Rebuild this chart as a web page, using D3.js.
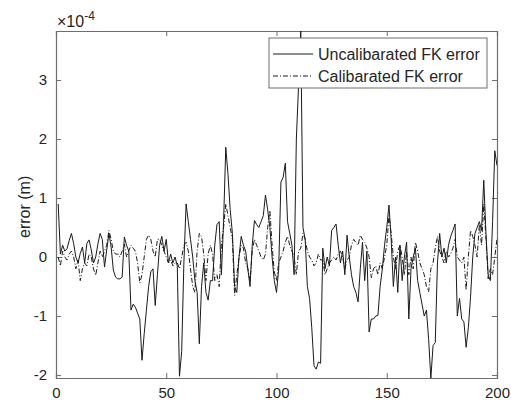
<!DOCTYPE html>
<html>
<head>
<meta charset="utf-8">
<script src="https://cdn.jsdelivr.net/npm/d3@7"></script>
<style>
    body { margin: 0; background: #fff; }
    svg text { font-family: "Liberation Sans", Arial, sans-serif; fill: #262626; }
</style>
</head>
<body>
<svg id="chart" width="511" height="406"></svg>
<script>
    // error values in units of 1e-4 m, sample index 1..200
    var uncalibrated = [
        0.9, 0.05, 0.2, 0.1, 0.14, 0.28, 0.4, 0.23, 0.0, -0.1,
        0.06, 0.17, -0.1, 0.23, 0.29, 0.12, -0.1, 0.0, 0.22, 0.4,
        0.3, -0.17, 0.12, 0.4, 0.17, -0.22, -0.34, -0.37, -0.37, -0.34,
        0.34, 0.2, 0.1, -0.9, -0.8, -0.85, -0.95, -1.05, -1.75, -1.3,
        -0.9, -0.5, -0.25, -0.2, -0.82, -0.3, 0.2, 0.35, 0.1, 0.3,
        -0.1, 0.05, -0.1, 0.0, -0.15, -2.02, -1.6, -0.1, 0.9, 0.6,
        0.3, 0.0, -0.4, -0.6, -1.47, -0.5, -0.1, -0.6, -0.73, -0.4,
        -0.4, 0.2, 0.55, 0.6, -0.3, 0.6, 1.86, 1.4, 0.8, 0.4,
        -0.5, -0.6, 0.0, 0.35, 0.2, 0.1, -0.2, -0.5, 0.2, 0.62,
        0.55, 0.5, 0.6, 0.7, 1.05, 0.8, 0.5, 0.0, -0.4, -0.6,
        -0.2, 1.27, 1.35, 1.59, 0.6, 0.4, 0.2, -0.3, 2.0, 2.9,
        3.83, 0.5, 0.3, -0.5, -0.7, -1.2, -1.84, -1.9, -1.78, -1.8,
        0.15, -0.2, 0.0, -0.15, 0.45, 0.5, 0.56, 0.2, -0.1, 0.1,
        -0.3, 0.37, 0.0, -0.3, -0.5, -0.6, -0.76, -0.2, 0.25, -0.4,
        0.1, -1.27, -1.05, -1.05, -1.0, -0.99, -0.5, -0.2, 0.2, 0.5,
        0.88, 0.3, -0.5, 0.0, -0.6, 0.2, -0.4, 0.0, 0.25, -1.05,
        -0.2, 0.0, 0.15, -0.4, -0.6, -0.8, -1.0, -0.9, -1.4, -2.05,
        -1.5, -1.45, -0.1, 0.4, 0.0, 0.15, -0.1, 0.2, 0.35, 0.45,
        0.56, -1.0, -0.7, -1.05, -1.1, -1.53, -1.2, -0.68, 0.0, 0.4,
        0.5, 0.6, 0.45, 1.3, 0.4, -0.3, -0.4, 0.6, 1.8, 1.55
    ];
    var calibrated = [
        0.0, -0.15, 0.1, 0.0, -0.05, 0.05, 0.1, 0.0, -0.2, -0.05,
        -0.4, -0.2, -0.1, -0.15, 0.05, 0.0, -0.2, -0.31, -0.1, 0.1,
        0.0, 0.1, 0.2, 0.45, 0.3, 0.1, 0.05, 0.05, 0.0, 0.1,
        0.22, 0.0, 0.1, 0.2, 0.15, 0.1, -0.1, -0.44, -0.3, 0.0,
        0.3, 0.37, 0.3, 0.1, 0.0, 0.3, 0.3, 0.2, 0.1, 0.0,
        -0.1, -0.05, -0.15, -0.1, -0.1, -0.2, 0.0, 0.2, 0.25, 0.1,
        -0.2, -0.5, -0.6, 0.1, 0.4, 0.35, 0.05, -0.4, 0.05, 0.2,
        0.05, -0.4, -0.3, -0.5, 0.2, 0.5, 0.9, 0.7, 0.5, 0.3,
        -0.65, -0.3, 0.0, 0.2, 0.15, -0.1, -0.2, -0.4, 0.1, 0.3,
        0.2, 0.1, 0.0, -0.05, 0.05, 0.5, 0.79, 0.2, -0.25, -0.4,
        -0.1, 0.0, 0.1, 0.25, 0.35, 0.2, 0.1, 0.0, -0.3, 0.1,
        0.15, 0.4, 0.3, 0.1, 0.0, -0.05, -0.15, -0.1, 0.05, -0.05,
        -0.05, -0.3, -0.2, -0.1, -0.05, 0.0, -0.05, 0.05, 0.1, 0.0,
        -0.2, -0.05, 0.0, 0.2, 0.3, 0.25, 0.2, 0.37, 0.3, 0.25,
        0.15, 0.0, -0.35, -0.2, -0.15, -0.3, -0.1, -0.2, 0.0, 0.2,
        0.7, 0.4, 0.0, -0.2, 0.1, 0.2, 0.0, -0.3, 0.1, -0.3,
        0.0, -0.2, 0.25, 0.1, -0.1, -0.2, -0.3, -0.5, -0.59, -0.2,
        -0.1, 0.15, 0.35, 0.1, 0.0, -0.1, 0.1, 0.0, 0.05, 0.15,
        0.3, 0.0, -0.05, -0.1, 0.0, -0.56, 0.0, 0.45, 0.35, 0.2,
        0.0, 0.55, 0.2, 0.9, 0.3, -0.37, -0.2, -0.3, 0.0, 0.31
    ];
    var xTicks = [0, 50, 100, 150, 200];
    var yTicks = [-2, -1, 0, 1, 2, 3];
    var seriesNames = ["Uncalibarated FK error", "Calibarated FK error"];

    var margin = {top: 31, right: 14, bottom: 28, left: 56};
    var svg = d3.select("#chart");
    var w = +svg.attr("width"), h = +svg.attr("height");
    var width = w - margin.left - margin.right;
    var height = h - margin.top - margin.bottom;

    var x = d3.scaleLinear().domain([0, 200]).range([0, width]);
    var y = d3.scaleLinear().domain([-2.05, 3.83]).range([height, 0]);

    var chart = svg.append("g")
        .attr("transform", "translate(" + margin.left + "," + margin.top + ")");

    svg.append("defs").append("clipPath").attr("id", "clip")
        .append("rect").attr("width", width).attr("height", height);

    var axisColor = "#6e6e6e";
    var plainNum = function(d){ return String(d); }; // matlab style hyphen minus

    // axes, ticks pointing inward like matlab
    var xb = chart.append("g").attr("transform", "translate(0," + height + ")")
        .call(d3.axisBottom(x).tickValues(xTicks).tickSize(-5).tickPadding(9).tickFormat(plainNum));
    var xt = chart.append("g")
        .call(d3.axisTop(x).tickValues(xTicks).tickSize(-5).tickFormat(""));
    var yl = chart.append("g")
        .call(d3.axisLeft(y).tickValues(yTicks).tickSize(-5).tickPadding(9).tickFormat(plainNum));
    var yr = chart.append("g").attr("transform", "translate(" + width + ",0)")
        .call(d3.axisRight(y).tickValues(yTicks).tickSize(-5).tickFormat(""));

    [xb, xt, yl, yr].forEach(function(g){
        g.select(".domain").attr("stroke", axisColor).attr("stroke-width", 1.2);
        g.selectAll(".tick line").attr("stroke", axisColor);
        g.selectAll(".tick text").style("font-size", "15px").attr("fill", "#262626");
    });

    var line = d3.line()
        .x(function(d, i){ return x(i + 1); })
        .y(function(d){ return y(d); });

    var plotArea = chart.append("g").attr("clip-path", "url(#clip)");

    plotArea.append("path")
        .datum(uncalibrated)
        .attr("d", line)
        .attr("fill", "none")
        .attr("stroke", "#1a1a1a")
        .attr("stroke-width", 1);

    plotArea.append("path")
        .datum(calibrated)
        .attr("d", line)
        .attr("fill", "none")
        .attr("stroke", "#1a1a1a")
        .attr("stroke-width", 1)
        .attr("stroke-dasharray", "5,2,1,2");

    // exponent label
    var expo = svg.append("text")
        .attr("x", margin.left + 1)
        .attr("y", 27)
        .style("font-size", "16px");
    expo.append("tspan").text("\u00d710");
    expo.append("tspan").attr("dy", -7).style("font-size", "12px").text("-4");

    // y label
    svg.append("text")
        .attr("transform", "translate(" + 30 + "," + (margin.top + y(0.85)) + ") rotate(-90)")
        .style("text-anchor", "middle")
        .style("font-size", "16px")
        .text("error (m)");

    // legend
    var legend = svg.append("g").attr("transform", "translate(269,38)");
    legend.append("rect")
        .attr("width", 218).attr("height", 50)
        .attr("fill", "#fff").attr("stroke", axisColor).attr("stroke-width", 1);
    seriesNames.forEach(function(name, i){
        var yy = 16 + i * 22;
        legend.append("line")
            .attr("x1", 4).attr("x2", 44).attr("y1", yy).attr("y2", yy)
            .attr("stroke", "#1a1a1a").attr("stroke-width", 1)
            .attr("stroke-dasharray", i === 1 ? "5,2,1,2" : null);
        legend.append("text")
            .attr("x", 49).attr("y", yy + 6)
            .style("font-size", "16px")
            .text(name);
    });
</script>
</body>
</html>
